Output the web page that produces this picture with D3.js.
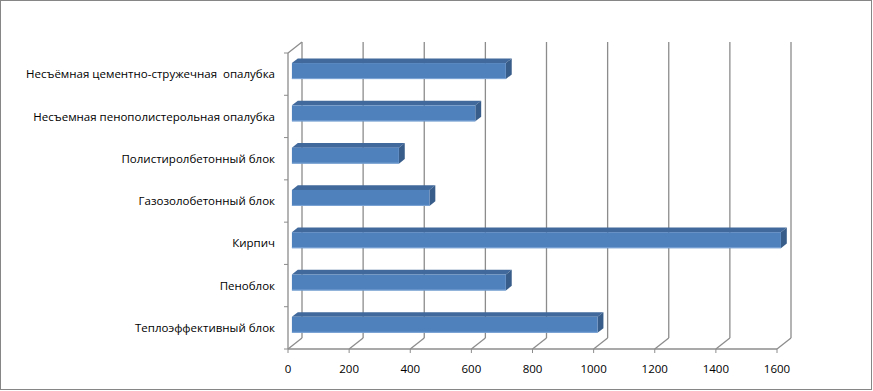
<!DOCTYPE html>
<html><head><meta charset="utf-8">
<script src="https://cdn.jsdelivr.net/npm/d3@7"></script>
<style>body{margin:0;background:#fff}svg{display:block}text{white-space:pre}</style>
</head><body>
<script>
const categories = ["Несъёмная цементно-стружечная  опалубка","Несъемная пенополистерольная опалубка","Полистиролбетонный блок","Газозолобетонный блок","Кирпич","Пеноблок","Теплоэффективный блок"];
const values = [700, 600, 350, 450, 1600, 700, 1000];
const xTicks = [0,200,400,600,800,1000,1200,1400,1600];

const W = 873, H = 391;
const svg = d3.select("body").append("svg").attr("width", W).attr("height", H);
svg.append("rect").attr("x",0.5).attr("y",0.5).attr("width",871).attr("height",389)
  .attr("fill","#fff").attr("stroke","#868686");

const x = d3.scaleLinear().domain([0,1600]).range([288,777]);
const y = d3.scaleBand().domain(categories).range([53,349]);
const DX = 14, DY = -11;
const grid = "#8c8c8c";
const g = svg.append("g");

// back wall gridlines
xTicks.forEach(t=>{
  const fx = x(t);
  g.append("line").attr("x1",fx+DX).attr("x2",fx+DX).attr("y1",349+DY).attr("y2",53+DY)
    .attr("stroke",grid).attr("stroke-width",1.3);
  g.append("line").attr("x1",fx).attr("y1",349).attr("x2",fx+DX).attr("y2",349+DY)
    .attr("stroke",grid).attr("stroke-width",1.3);
});
// left wall top diagonal
g.append("line").attr("x1",x(0)).attr("y1",53).attr("x2",x(0)+DX).attr("y2",53+DY)
  .attr("stroke",grid).attr("stroke-width",1.3);
// front axes
g.append("line").attr("x1",x(0)).attr("x2",x(0)).attr("y1",53).attr("y2",349).attr("stroke",grid).attr("stroke-width",1.3);
g.append("line").attr("x1",x(0)).attr("x2",x(1600)).attr("y1",349).attr("y2",349).attr("stroke",grid).attr("stroke-width",1.3);
// ticks
const bounds = categories.map(c=>y(c)).concat([349]);
bounds.forEach(b=>g.append("line").attr("x1",284).attr("x2",288).attr("y1",b).attr("y2",b).attr("stroke",grid));
xTicks.forEach(t=>g.append("line").attr("x1",x(t)).attr("x2",x(t)).attr("y1",349).attr("y2",353).attr("stroke",grid));

// bars
const t0 = 0.28, t1 = 0.7, bh = 16;
categories.forEach((c,i)=>{
  const v = values[i];
  const cy = y(c) + y.bandwidth()/2 + DY*t0;
  const x0 = x(0) + DX*t0, x1 = x(v) + DX*t0;
  const top = cy - bh/2, bot = cy + bh/2;
  const ddx = DX*(t1-t0), ddy = DY*(t1-t0);
  g.append("path").attr("d",`M${x0},${top}L${x0+ddx},${top+ddy}L${x1+ddx},${top+ddy}L${x1},${top}Z`).attr("fill","#41699b");
  g.append("path").attr("d",`M${x1},${top}L${x1+ddx},${top+ddy}L${x1+ddx},${bot+ddy}L${x1},${bot}Z`).attr("fill","#385d8a");
  g.append("rect").attr("x",x0).attr("y",top).attr("width",x1-x0).attr("height",bh).attr("fill","#4f81bd");
  g.append("line").attr("x1",x0).attr("x2",x1).attr("y1",bot-0.5).attr("y2",bot-0.5).attr("stroke","#7ea6d6").attr("stroke-width",1);
});

// labels
const font = "'Open Sans', sans-serif";
categories.forEach(c=>{
  svg.append("text").attr("x",275).attr("y",y(c)+y.bandwidth()/2+1).attr("text-anchor","end")
    .attr("dominant-baseline","middle").attr("font-family",font).attr("font-size",11.5).attr("fill","#000").text(c);
});
xTicks.forEach(t=>{
  svg.append("text").attr("x",x(t)).attr("y",370).attr("text-anchor","middle")
    .attr("dominant-baseline","middle").attr("font-family",font).attr("font-size",11.5).attr("fill","#000").text(t);
});
</script>
</body></html>
